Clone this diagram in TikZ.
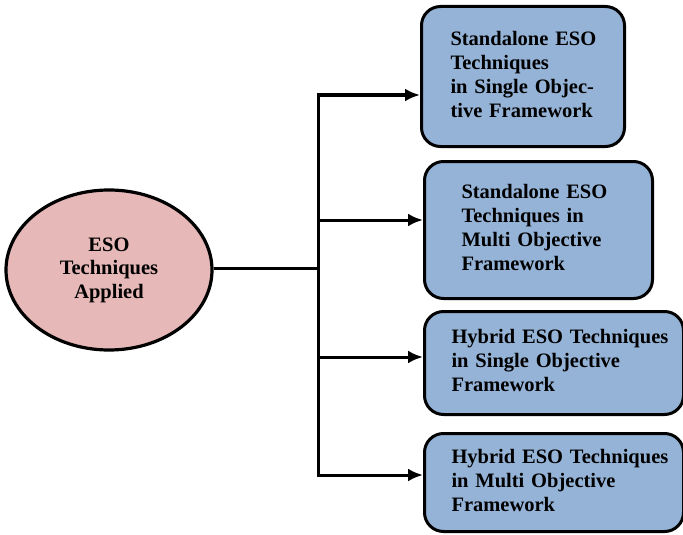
\documentclass[tikz,border=0pt]{standalone}
\usepackage{fontspec}
\setmainfont{Liberation Serif}
\usetikzlibrary{arrows.meta, positioning, shapes.geometric}

\definecolor{esopink}{HTML}{E6B8B7}
\definecolor{esoblue}{HTML}{95B3D7}

\newcommand{\leaflines}[1]{\begin{tabular}{@{}l@{}}#1\end{tabular}}

\tikzset{
  root/.style={ellipse, draw, fill=esopink, line width=3.2pt, inner sep=0pt,
    minimum width=206pt, minimum height=160pt, align=center,
    font=\bfseries\fontsize{20.5}{23.5}\selectfont},
  leaf/.style={draw, fill=esoblue, line width=3pt, rounded corners=19pt,
    anchor=north west, align=left, inner ysep=0pt,
    font=\bfseries\fontsize{20.5}{24}\selectfont},
}

\begin{document}
\begin{tikzpicture}[x=1pt, y=-1pt, >={Latex[length=15pt,width=13pt]}, line width=3pt]
    \useasboundingbox (0,0) rectangle (683,535);
        \node[root] (eso) at (109,270) {ESO\\Techniques\\Applied};
        \node[leaf, inner xsep=29pt, text width=145pt, minimum height=140pt] (b1) at (420,5)
            {\leaflines{Standalone ESO\\Techniques\\in Single Objec-\\tive Framework}};
        \node[leaf, inner xsep=37pt, text width=154pt, minimum height=137pt] (b2) at (423,160)
            {\leaflines{Standalone ESO\\Techniques in\\Multi Objective\\Framework}};
        \node[leaf, inner xsep=27pt, text width=205pt, minimum height=103pt] (b3) at (423,310)
            {\leaflines{Hybrid ESO Techniques\\in Single Objective\\Framework}};
        \node[leaf, inner xsep=27pt, text width=205pt, minimum height=98pt] (b4) at (423,432)
            {\leaflines{Hybrid ESO Techniques\\in Multi Objective\\Framework}};
        % trunk points
        \coordinate (j) at (318,268);
        \coordinate (t1) at (318,95);
        \coordinate (t2) at (318,220);
        \coordinate (t3) at (318,357);
        \coordinate (t4) at (318,475);
        \draw (eso.east |- j) -- (j);
        \draw[<->] (t1 -| b1.west) -- (t1) -- (t4) -- (t4 -| b4.west);
        \draw[->] (t2) -- (t2 -| b2.west);
        \draw[->] (t3) -- (t3 -| b3.west);
    \end{tikzpicture}
\end{document}
